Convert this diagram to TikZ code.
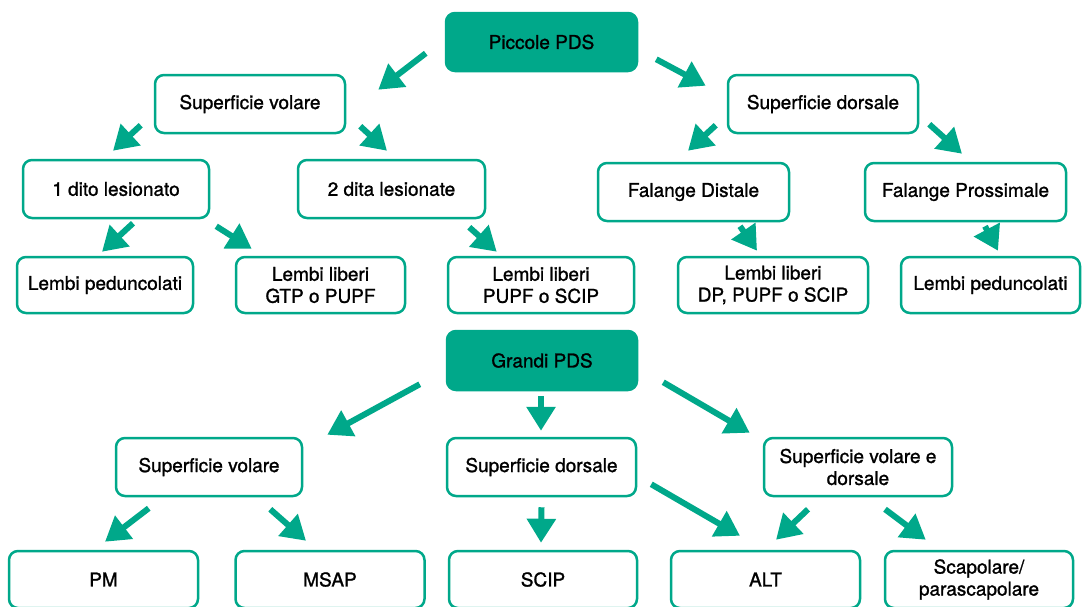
\documentclass[tikz,border=0pt]{standalone}
\usepackage{fontspec}
\setmainfont{TeX Gyre Heros}
\newfontfamily\pdsfont[FakeBold=1.2]{TeX Gyre Heros}
\usetikzlibrary{arrows.meta,calc}
\definecolor{pdsgreen}{RGB}{0,168,138}
\tikzstyle{box} = [draw=pdsgreen,line width=2.5pt,rounded corners=9pt,fill=white,align=center,inner sep=0pt,minimum height=58pt,font=\pdsfont\fontsize{19}{22}\selectfont]
\tikzstyle{rootbox} = [box,fill=pdsgreen]
\tikzstyle{arrow} = [pdsgreen,line width=6pt,-{Triangle[length=24pt,width=28pt]}]

\begin{document}
\begin{tikzpicture}[x=1pt,y=1pt,yscale=-1,xscale=1]
\useasboundingbox (0,0) rectangle (1083,606);

% Piccole PDS
\node[rootbox,minimum width=191pt] (pic) at (541.5,42) {Piccole PDS};
\node[box,minimum width=190pt] (volT) at (250,104) {Superficie volare};
\node[box,minimum width=190pt] (dorT) at (823,104) {Superficie dorsale};
\node[box,minimum width=186pt] (dito1) at (116,189) {1 dito lesionato};
\node[box,minimum width=187pt] (dita2) at (391.5,189) {2 dita lesionate};
\node[box,minimum width=191pt] (falD) at (693.5,192) {Falange Distale};
\node[box,minimum width=201pt] (falP) at (965.5,192) {Falange Prossimale};
\node[box,minimum width=176pt,minimum height=56pt] (pedL) at (105,285) {Lembi peduncolati};
\node[box,minimum width=169pt,minimum height=56pt] (libGTP) at (320.5,285) {Lembi liberi\\GTP o PUPF};
\node[box,minimum width=186pt,minimum height=56pt] (libPUPF) at (541,285) {Lembi liberi\\PUPF o SCIP};
\node[box,minimum width=190pt,minimum height=56pt] (libDP) at (773,285) {Lembi liberi\\DP, PUPF o SCIP};
\node[box,minimum width=179pt,minimum height=56pt] (pedR) at (990.5,285) {Lembi peduncolati};

% Grandi PDS
\node[rootbox,minimum width=190pt,minimum height=59pt] (gra) at (542,360.5) {Grandi PDS};
\node[box,minimum width=186pt] (volB) at (209,467) {Superficie volare};
\node[box,minimum width=189pt] (dorB) at (541.5,467) {Superficie dorsale};
\node[box,minimum width=188pt] (vdB) at (858,467) {Superficie volare e\\dorsale};
\node[box,minimum width=189pt,minimum height=57pt] (pm) at (103.5,579.5) {PM};
\node[box,minimum width=189pt,minimum height=57pt] (msap) at (330,579.5) {MSAP};
\node[box,minimum width=188pt,minimum height=57pt] (scip) at (543,579.5) {SCIP};
\node[box,minimum width=189pt,minimum height=57pt] (alt) at (765.5,579.5) {ALT};
\node[box,minimum width=188pt,minimum height=57pt] (scap) at (979,579.5) {Scapolare/\\parascapolare};

%Arrows, upper tree
\draw[arrow] ($(pic.south west)+(-19,-19)$) -- ($(volT.north east)+(32,16)$);
\draw[arrow] ($(pic.south east)+(18,-13)$) -- ($(dorT.north west)+(-21,12)$);
\draw[arrow] ($(volT.south west)+(-13,-9)$) -- ($(dito1.north)+(-3,-8)$);
\draw[arrow] ($(volT.south east)+(14,-8)$) -- ($(dita2.north)+(-4.5,-8)$);
\draw[arrow] ($(dorT.south west)+(-11,-9)$) -- ($(falD.north)+(-5.5,-11)$);
\draw[arrow] ($(dorT.south east)+(10,-10)$) -- ($(falP.north)+(-3.5,-8)$);
\draw[arrow] ($(dito1.south)+(17,4)$) -- ($(pedL.north)+(-3,-4)$);
\draw[arrow] ($(dito1.south east)+(6,7)$) -- ($(libGTP.north west)+(17,-7)$);
\draw[arrow] ($(dita2.south east)+(-17,8)$) -- ($(libPUPF.north west)+(50,-4)$);
\draw[arrow] ($(falD.south)+(46.5,4)$) -- ($(libDP.north)+(-16,-5)$);
\draw[arrow] ($(falP.south)+(19.5,4)$) -- ($(pedR.north)+(7.5,-5)$);

%Arrows, lower tree
\draw[arrow] ($(gra.south west)+(-26,-7)$) -- ($(volB.north east)+(24,-2)$);
\draw[arrow] ($(gra.south)+(-1,5)$) -- ($(dorB.north)+(-0.5,-6)$);
\draw[arrow] ($(gra.south east)+(25,-9)$) -- ($(vdB.north west)+(-13,-4)$);
\draw[arrow] ($(volB.south west)+(34,11)$) -- ($(pm.north)+(1.5,-8)$);
\draw[arrow] ($(volB.south east)+(-33,12)$) -- ($(msap.north)+(-24,-9)$);
\draw[arrow] ($(dorB.south)+(0,10)$) -- ($(scip.north)+(-2,-7)$);
\draw[arrow] ($(dorB.south east)+(14,-13)$) -- ($(alt.north)+(-25.5,-14)$);
\draw[arrow] ($(vdB.south)+(-50,12)$) -- ($(alt.north)+(10.5,-10)$);
\draw[arrow] ($(vdB.south)+(27,12)$) -- ($(scap.north west)+(42,-10)$);

\end{tikzpicture}
\end{document}
